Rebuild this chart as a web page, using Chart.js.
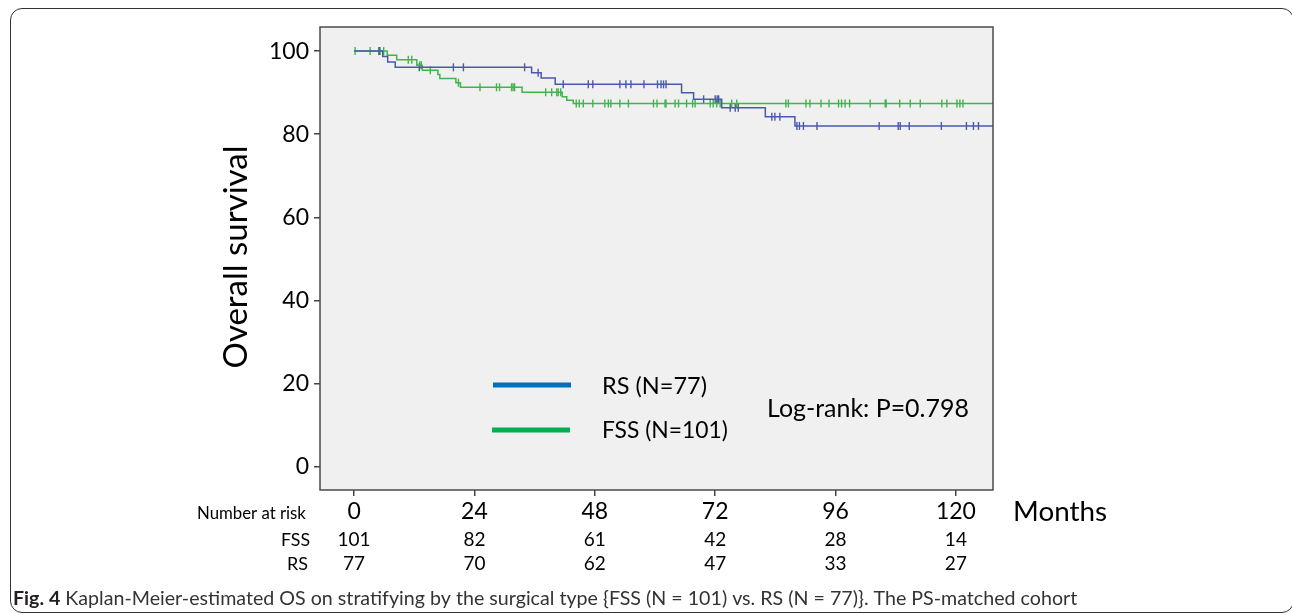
<!DOCTYPE html>
<html>
<head>
<meta charset="utf-8">
<style>
  html, body { margin: 0; padding: 0; background: #fff; }
  #wrap { position: relative; width: 1292px; height: 615px; overflow: hidden; }
  #frame {
    position: absolute; left: 10px; top: 8px; width: 1284px; height: 605px;
    border: 1.5px solid #333; border-radius: 12px; box-sizing: border-box;
  }
  canvas { position: absolute; left: 0; top: 0; }
</style>
</head>
<body>
<div id="wrap">
  <div id="frame"></div>
  <canvas id="kmChart" width="1292" height="615"></canvas>
</div>

<script src="https://cdn.jsdelivr.net/npm/chart.js"></script>
<script>
  // ticks and risk table
  const xTicks = [0, 24, 48, 72, 96, 120];
  const yTicks = [0, 20, 40, 60, 80, 100];
  const riskFSS = [101, 82, 61, 42, 28, 14];
  const riskRS = [77, 70, 62, 47, 33, 27];
  const followUpEnd = 127.4;

  // RS curve (months, survival %)
  const rsEventTimes = [5.7, 6.7, 8.2, 35.4, 37.3, 40.1, 65.3, 67.7, 73.3, 82.0, 87.9];
  const rsSurvival = [98.7, 97.4, 96.1, 94.8, 93.5, 92.0, 90.0, 88.4, 86.4, 84.2, 82.0];
  const rsCensored = [5.0, 13.0, 19.8, 21.8, 34.0, 36.7, 41.7, 46.7, 47.6, 53.0, 54.2, 55.2,
    57.8, 60.5, 61.2, 61.7, 62.2, 69.7, 72.0, 72.4, 72.7, 75.0, 76.0, 76.6, 83.3, 83.9, 84.9,
    88.3, 88.8, 89.6, 92.3, 104.7, 108.5, 108.9, 110.7, 117.1, 122.1, 123.5, 124.5];

  // FSS curve
  const fssEventTimes = [6.6, 8.5, 12.5, 13.6, 16.7, 17.1, 20.3, 21.2, 33.5, 41.5, 42.4, 43.7];
  const fssSurvival = [99.0, 97.9, 96.6, 95.4, 94.4, 93.4, 92.4, 91.3, 90.1, 89.0, 88.2, 87.4];
  const fssCensored = [0.2, 3.2, 4.9, 5.2, 5.9, 10.8, 11.5, 13.1, 13.4, 15.2, 20.8, 25.1, 28.4,
    29.0, 31.4, 31.7, 32.0, 38.2, 39.4, 40.4, 40.7, 41.2, 44.3, 44.9, 45.7, 47.6, 50.0, 50.7,
    51.2, 53.0, 54.7, 59.7, 60.4, 62.0, 62.2, 64.0, 64.7, 66.3, 67.5, 68.0, 71.0, 71.6, 72.3,
    73.0, 75.3, 76.3, 86.1, 86.6, 90.1, 90.9, 93.1, 94.7, 96.6, 97.2, 97.9, 98.8, 102.9, 105.9,
    106.1, 108.8, 110.9, 112.9, 117.2, 118.2, 120.2, 120.8, 121.4];

  const RS_COLOR = '#4a5aab';
  const FSS_COLOR = '#3fb54c';
  const FONT = 'Lato, "Open Sans", sans-serif';

  function stepPoints(times, surv) {
    const pts = [{ x: 0, y: 100 }];
    times.forEach((t, i) => pts.push({ x: t, y: surv[i] }));
    pts.push({ x: followUpEnd, y: surv[surv.length - 1] });
    return pts;
  }
  function survivalAt(times, surv, t) {
    let s = 100;
    times.forEach((tt, i) => { if (tt <= t) s = surv[i]; });
    return s;
  }
  function censorPoints(cens, times, surv) {
    return cens.map(t => ({ x: t, y: survivalAt(times, surv, t) }));
  }

  // sets a font so that text spans the wanted width
  function fitFont(ctx, text, width, weight) {
    ctx.font = `${weight || ''} 20px ${FONT}`;
    const w = ctx.measureText(text).width;
    return 20 * width / w;
  }
  function drawText(ctx, text, x, y, width, opts = {}) {
    const size = fitFont(ctx, text, width, opts.weight);
    ctx.font = `${opts.weight || ''} ${size}px ${FONT}`;
    ctx.fillStyle = opts.color || '#000';
    ctx.textAlign = opts.align || 'left';
    ctx.textBaseline = 'middle';
    ctx.fillText(text, x, y);
  }

  const kmPlugin = {
    id: 'kmDeco',
    beforeDraw(chart) {
      const { ctx, chartArea: a } = chart;
      ctx.save();
      ctx.fillStyle = '#f0f0f0';
      ctx.fillRect(a.left, a.top, a.right - a.left, a.bottom - a.top);
      ctx.restore();
    },
    afterDraw(chart) {
      const { ctx, chartArea: a, scales } = chart;
      ctx.save();
      ctx.strokeStyle = '#4a4a4a';
      ctx.lineWidth = 1.5;
      ctx.strokeRect(a.left, a.top, a.right - a.left, a.bottom - a.top);

      // legend inside plot
      ctx.lineWidth = 5;
      ctx.strokeStyle = '#0070c0';
      ctx.beginPath(); ctx.moveTo(493, 385); ctx.lineTo(571, 385); ctx.stroke();
      ctx.strokeStyle = '#00b050';
      ctx.beginPath(); ctx.moveTo(492, 430); ctx.lineTo(570, 430); ctx.stroke();
      drawText(ctx, 'RS (N=77)', 602, 386, 105);
      drawText(ctx, 'FSS (N=101)', 602, 431, 126);
      drawText(ctx, 'Log-rank: P=0.798', 767, 409, 202);

      // y title
      ctx.save();
      ctx.translate(236, 257);
      ctx.rotate(-Math.PI / 2);
      drawText(ctx, 'Overall survival', 0, 0, 223, { align: 'center' });
      ctx.restore();

      drawText(ctx, 'Months', 1013, 512, 94);

      // number at risk table
      drawText(ctx, 'Number at risk', 197, 514, 109);
      drawText(ctx, 'FSS', 310, 540, 29, { align: 'right' });
      drawText(ctx, 'RS', 308, 564, 21, { align: 'right' });
      ctx.font = `19px ${FONT}`;
      ctx.fillStyle = '#000';
      ctx.textAlign = 'center';
      ctx.textBaseline = 'middle';
      xTicks.forEach((t, i) => {
        const px = scales.x.getPixelForValue(t);
        ctx.fillText(String(riskFSS[i]), px, 540);
        ctx.fillText(String(riskRS[i]), px, 564);
      });

      // caption
      const bold = 'Fig. 4';
      const rest = ' Kaplan-Meier-estimated OS on stratifying by the surgical type {FSS (N = 101) vs. RS (N = 77)}. The PS-matched cohort';
      const size = 17;
      ctx.textAlign = 'left';
      ctx.font = `bold ${size}px ${FONT}`;
      const bw = ctx.measureText(bold).width;
      ctx.font = `${size}px ${FONT}`;
      const rw = ctx.measureText(rest).width;
      const k = 1065 / (bw + rw);
      ctx.font = `bold ${size * k}px ${FONT}`;
      ctx.fillStyle = '#231f20';
      ctx.fillText(bold, 13, 599);
      ctx.font = `${size * k}px ${FONT}`;
      ctx.fillStyle = '#333';
      ctx.fillText(rest, 13 + bw * k, 599);
      ctx.restore();
    }
  };

  const ctx = document.getElementById('kmChart').getContext('2d');
  new Chart(ctx, {
    type: 'line',
    data: {
      datasets: [
        {
          label: 'RS',
          data: stepPoints(rsEventTimes, rsSurvival),
          borderColor: RS_COLOR, borderWidth: 1.5, stepped: 'before',
          pointRadius: 0, fill: false
        },
        {
          label: 'FSS',
          data: stepPoints(fssEventTimes, fssSurvival),
          borderColor: FSS_COLOR, borderWidth: 1.5, stepped: 'before',
          pointRadius: 0, fill: false
        },
        {
          label: 'RS censored',
          data: censorPoints(rsCensored, rsEventTimes, rsSurvival),
          showLine: false, pointStyle: 'line', rotation: 90, pointRadius: 4,
          pointBorderColor: RS_COLOR, pointBorderWidth: 1.4
        },
        {
          label: 'FSS censored',
          data: censorPoints(fssCensored, fssEventTimes, fssSurvival),
          showLine: false, pointStyle: 'line', rotation: 90, pointRadius: 4,
          pointBorderColor: FSS_COLOR, pointBorderWidth: 1.4
        }
      ]
    },
    options: {
      responsive: false,
      animation: false,
      layout: { padding: { top: 27, right: 299, left: 0, bottom: 0 } },
      plugins: { legend: { display: false }, tooltip: { enabled: false } },
      scales: {
        x: {
          type: 'linear', min: -6.8, max: followUpEnd,
          afterBuildTicks: s => { s.ticks = xTicks.map(v => ({ value: v })); },
          afterFit: s => { s.height = 125; },
          grid: { drawOnChartArea: false, tickLength: 6, color: '#444', lineWidth: 1.5 },
          border: { display: false },
          ticks: { color: '#000', font: { size: 23, family: FONT }, padding: 2, maxRotation: 0, autoSkip: false }
        },
        y: {
          min: -5.6, max: 105.8,
          afterBuildTicks: s => { s.ticks = yTicks.map(v => ({ value: v })); },
          afterFit: s => { s.width = 320; },
          grid: { drawOnChartArea: false, tickLength: 6, color: '#444', lineWidth: 1.5 },
          border: { display: false },
          ticks: { color: '#000', font: { size: 23, family: FONT }, padding: 5 }
        }
      }
    },
    plugins: [kmPlugin]
  });
</script>
</body>
</html>
